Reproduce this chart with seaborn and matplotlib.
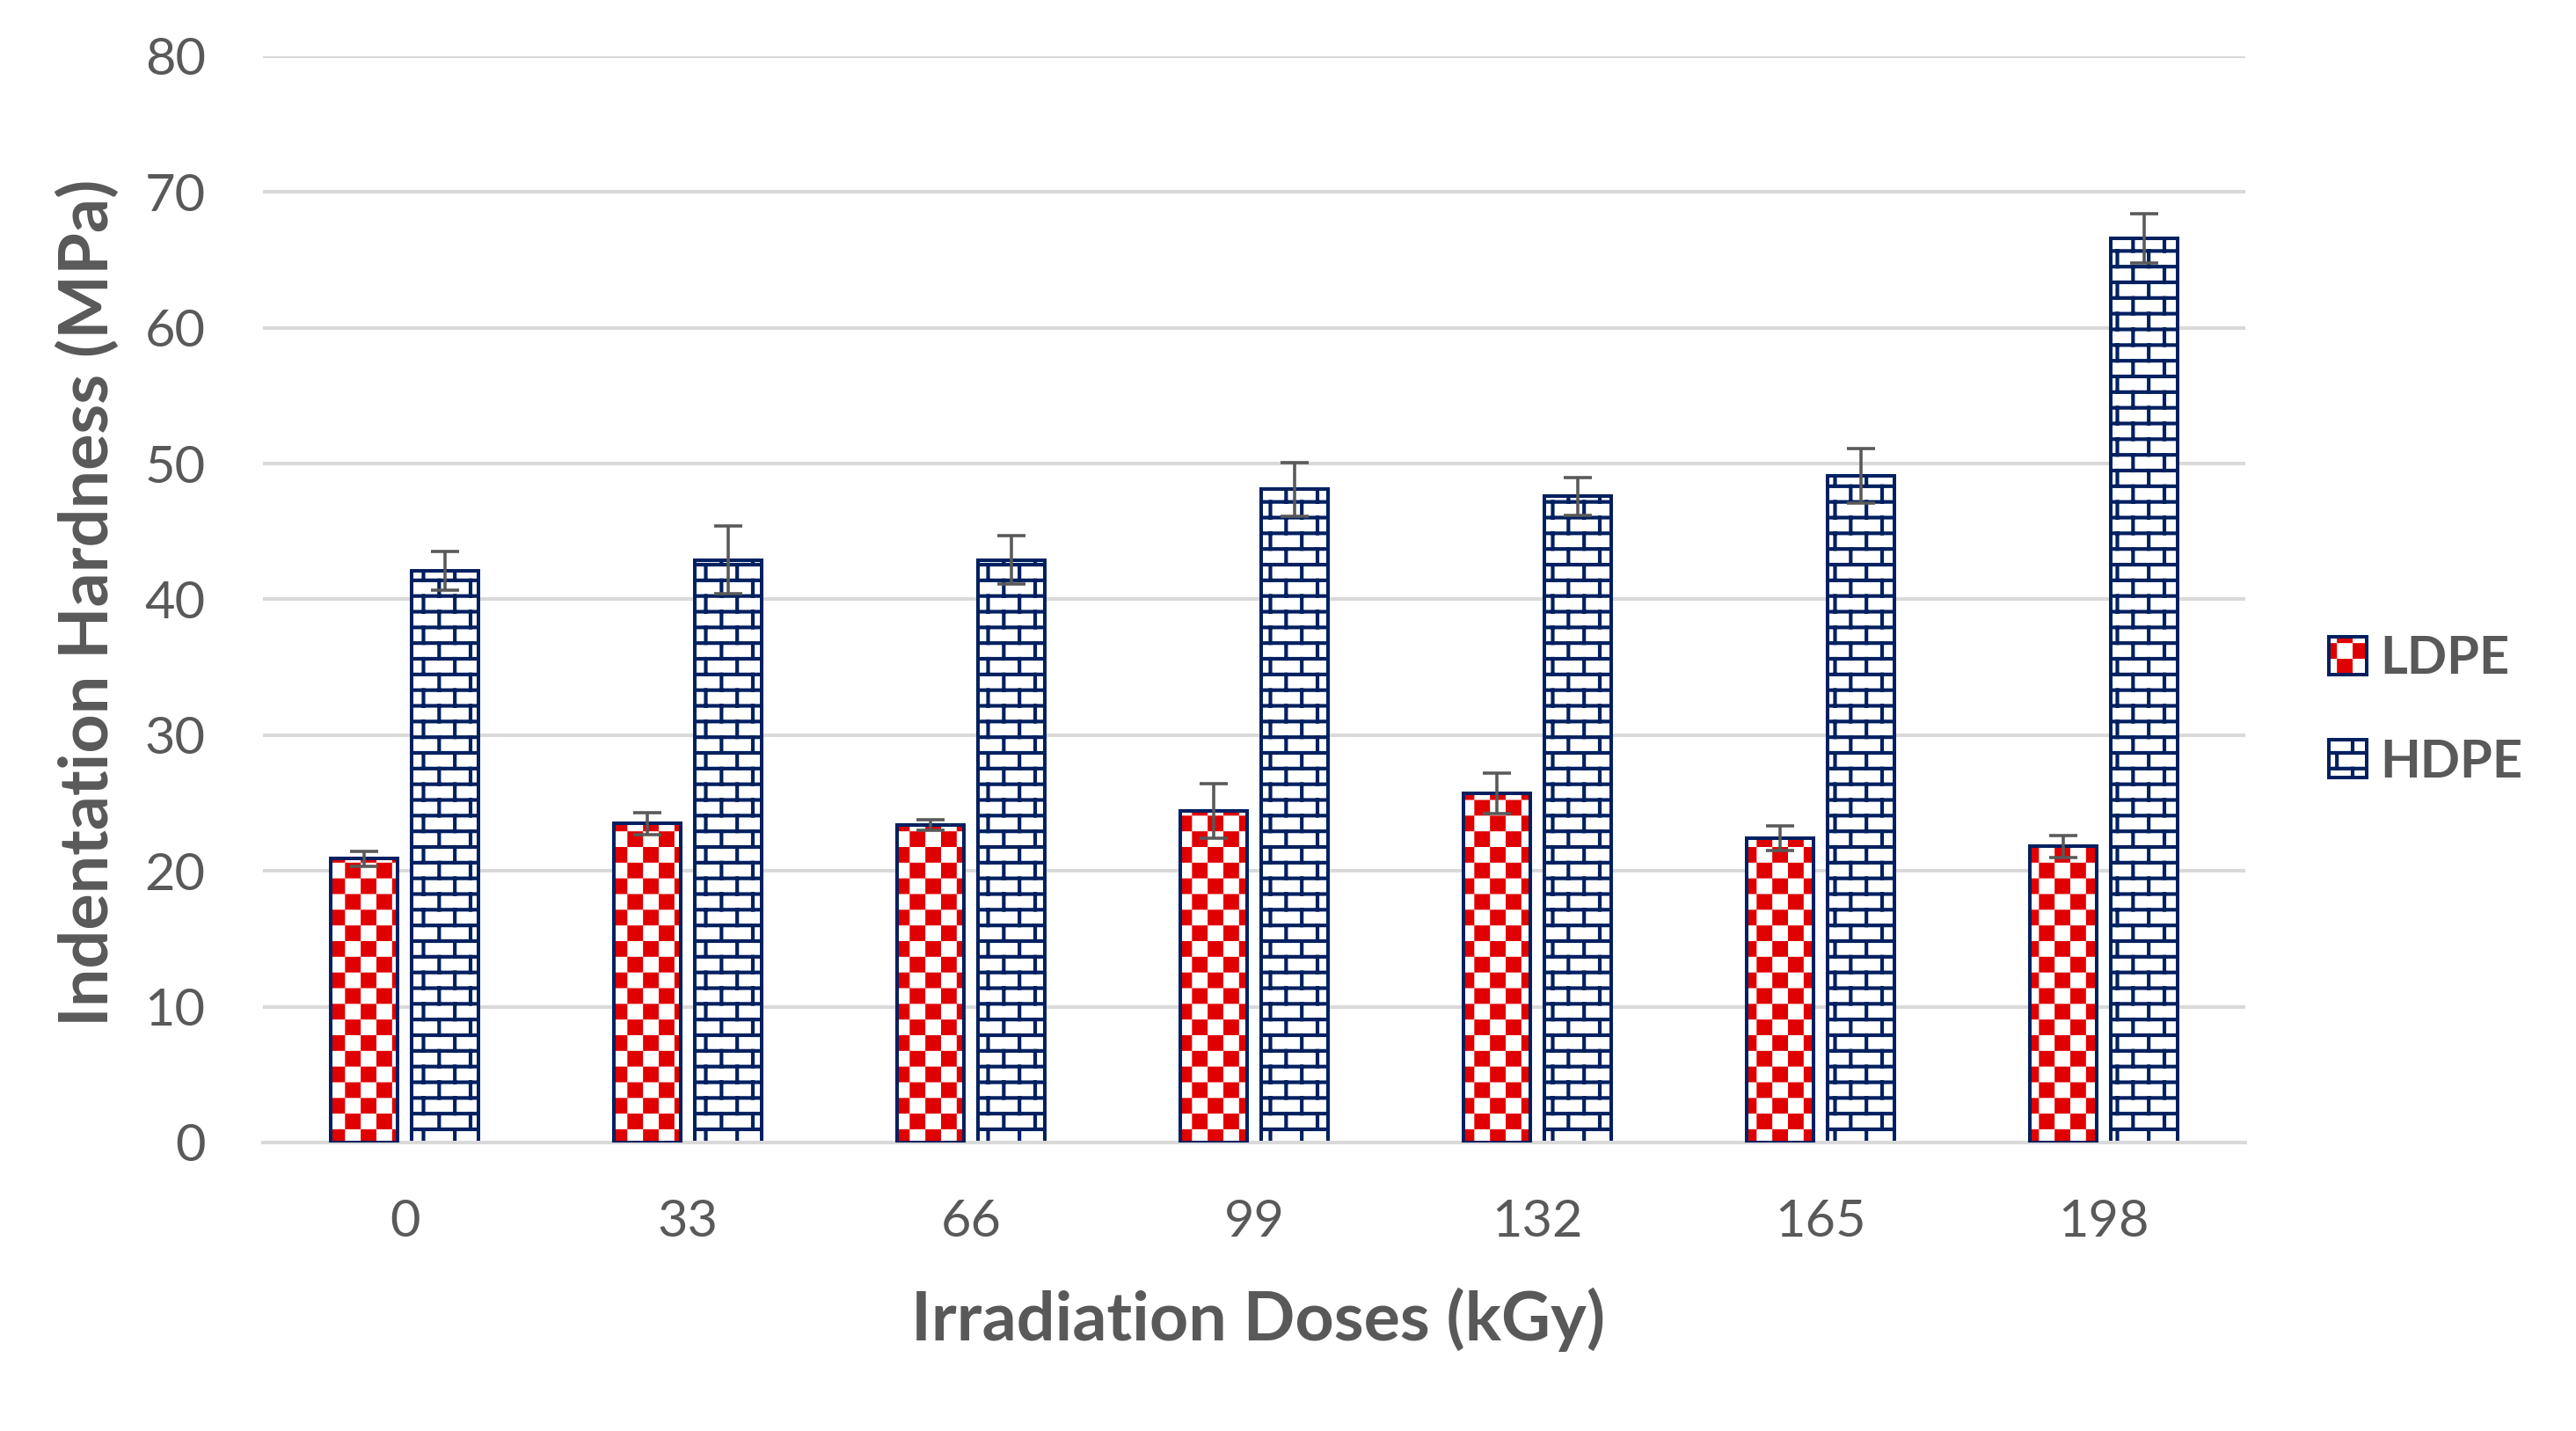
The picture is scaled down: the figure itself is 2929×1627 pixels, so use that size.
import numpy as np
import pandas as pd
import seaborn as sns
import matplotlib.pyplot as plt
import matplotlib.hatch as mhatch
from matplotlib.path import Path
from matplotlib.patches import Patch
from matplotlib.legend_handler import HandlerTuple

# data
doses = ["0", "33", "66", "99", "132", "165", "198"]
materials = ["LDPE", "HDPE"]
ldpe = [20.9, 23.5, 23.4, 24.4, 25.7, 22.4, 21.8]
ldpe_err = [0.55, 0.8, 0.4, 2.0, 1.5, 0.9, 0.8]
hdpe = [42.1, 42.9, 42.9, 48.1, 47.6, 49.1, 66.6]
hdpe_err = [1.4, 2.5, 1.8, 2.0, 1.4, 2.0, 1.8]

RED = "#E00000"
NAVY = "#002060"
GREY = "#595959"
GRID = "#D9D9D9"
DPI = 214
HATCH_LW = 1.4   # pt
EDGE_LW = 1.35   # pt


# Excel-like fill patterns: 'x' -> checkerboard, '+' -> bricks
class CheckerHatch:
    n = 12

    def __init__(self, hatch, density):
        self.on = "x" in hatch
        self.num_vertices = (self.n * self.n // 2) * 5 if self.on else 0

    def set_vertices_and_codes(self, vertices, codes):
        s = 1.0 / self.n
        d = HATCH_LW / 144.0  # half of the stroke, in tile units
        k = 0
        for i in range(self.n):
            for j in range(self.n):
                if (i + j) % 2:
                    continue
                x0, y0 = j * s + d, i * s + d
                x1, y1 = (j + 1) * s - d, (i + 1) * s - d
                vertices[k:k + 5] = [(x0, y0), (x1, y0), (x1, y1), (x0, y1), (x0, y0)]
                codes[k:k + 5] = [Path.MOVETO, Path.LINETO, Path.LINETO,
                                  Path.LINETO, Path.CLOSEPOLY]
                k += 5


class BrickHatch:
    rows = 12
    cols = 6

    def __init__(self, hatch, density):
        self.on = "+" in hatch
        segs = []
        if self.on:
            for r in range(self.rows + 1):
                y = r / self.rows
                segs.append(((0, y), (1, y)))
            for r in range(self.rows):
                y0, y1 = r / self.rows, (r + 1) / self.rows
                if r % 2 == 0:
                    xs = [c / self.cols for c in range(self.cols + 1)]
                else:
                    xs = [(c + 0.5) / self.cols for c in range(self.cols)]
                for x in xs:
                    segs.append(((x, y0), (x, y1)))
        self.segs = segs
        self.num_vertices = 2 * len(segs)

    def set_vertices_and_codes(self, vertices, codes):
        for i, (a, b) in enumerate(self.segs):
            vertices[2 * i] = a
            vertices[2 * i + 1] = b
            codes[2 * i] = Path.MOVETO
            codes[2 * i + 1] = Path.LINETO


mhatch._hatch_types = [CheckerHatch, BrickHatch]

sns.set_style("white")
plt.rcParams["font.family"] = ["Lato", "DejaVu Sans"]
plt.rcParams["hatch.linewidth"] = HATCH_LW

df = pd.DataFrame({
    "dose": doses * 2,
    "hardness": ldpe + hdpe,
    "material": ["LDPE"] * len(doses) + ["HDPE"] * len(doses),
})

fig = plt.figure(figsize=(2929 / DPI, 1627 / DPI), dpi=DPI)
ax = fig.add_axes([0.1021, 0.2016, 0.7695, 0.7591])

sns.barplot(data=df, x="dose", y="hardness", hue="material", order=doses,
            hue_order=materials, palette={"LDPE": "white", "HDPE": "white"},
            width=0.57, gap=0.175, errorbar=None, legend=False, ax=ax, zorder=2)

ldpe_bars, hdpe_bars = ax.containers[0], ax.containers[1]
ldpe_x = [p.get_x() + p.get_width() / 2 for p in ldpe_bars]
hdpe_x = [p.get_x() + p.get_width() / 2 for p in hdpe_bars]

for p in ldpe_bars:
    p.set_hatch("x")
    p.set_edgecolor(RED)
    p.set_linewidth(0)
# navy outline over the red checker
ax.bar(ldpe_x, ldpe, width=ldpe_bars[0].get_width(), fill=False,
       edgecolor=NAVY, linewidth=EDGE_LW, zorder=3)

for p in hdpe_bars:
    p.set_hatch("+")
    p.set_edgecolor(NAVY)
    p.set_linewidth(EDGE_LW)

ax.errorbar(ldpe_x, ldpe, yerr=ldpe_err, fmt="none", ecolor=GREY,
            elinewidth=1.2, capsize=5.5, capthick=1.2, zorder=4)
ax.errorbar(hdpe_x, hdpe, yerr=hdpe_err, fmt="none", ecolor=GREY,
            elinewidth=1.2, capsize=5.5, capthick=1.2, zorder=4)

ax.set_ylim(0, 80)
ax.set_yticks(range(0, 81, 10))
ax.set_xlim(-0.5, 6.5)
ax.yaxis.grid(True, color=GRID, linewidth=1.35)
ax.set_axisbelow(True)
for s in ["left", "top", "right"]:
    ax.spines[s].set_visible(False)
ax.spines["bottom"].set_color(GRID)
ax.spines["bottom"].set_linewidth(1.35)

ax.set_xticks(np.arange(-0.5, 7, 1), minor=True)
ax.tick_params(axis="x", which="minor", length=7.7, width=1.35, color=GRID, direction="out")
ax.tick_params(axis="x", which="major", length=0, pad=21.5, labelsize=20, labelcolor=GREY)
ax.tick_params(axis="y", length=0, pad=22, labelsize=20, labelcolor=GREY)

ax.set_xlabel("Irradiation Doses (kGy)", fontsize=26, fontweight="bold",
              color=GREY, va="center")
ax.xaxis.set_label_coords(0.502, -0.163)
ax.set_ylabel("Indentation Hardness (MPa)", fontsize=26, fontweight="bold",
              color=GREY, va="center")
ax.yaxis.set_label_coords(-0.0883, 0.497)

h_ldpe = (Patch(facecolor="white", edgecolor=RED, linewidth=0, hatch="x"),
          Patch(fill=False, edgecolor=NAVY, linewidth=EDGE_LW))
h_hdpe = Patch(facecolor="white", edgecolor=NAVY, linewidth=EDGE_LW, hatch="+")
fig.legend([h_ldpe, h_hdpe], materials,
           handler_map={tuple: HandlerTuple(ndivide=1, pad=0)},
           prop={"weight": "bold", "size": 20}, labelcolor=GREY, frameon=False,
           handlelength=0.73, handleheight=0.73, handletextpad=0.25,
           labelspacing=1.06, borderpad=0, borderaxespad=0,
           loc="center left", bbox_to_anchor=(2648 / 2929, 1 - 808 / 1627))

fig.savefig("out.png", dpi=DPI)
